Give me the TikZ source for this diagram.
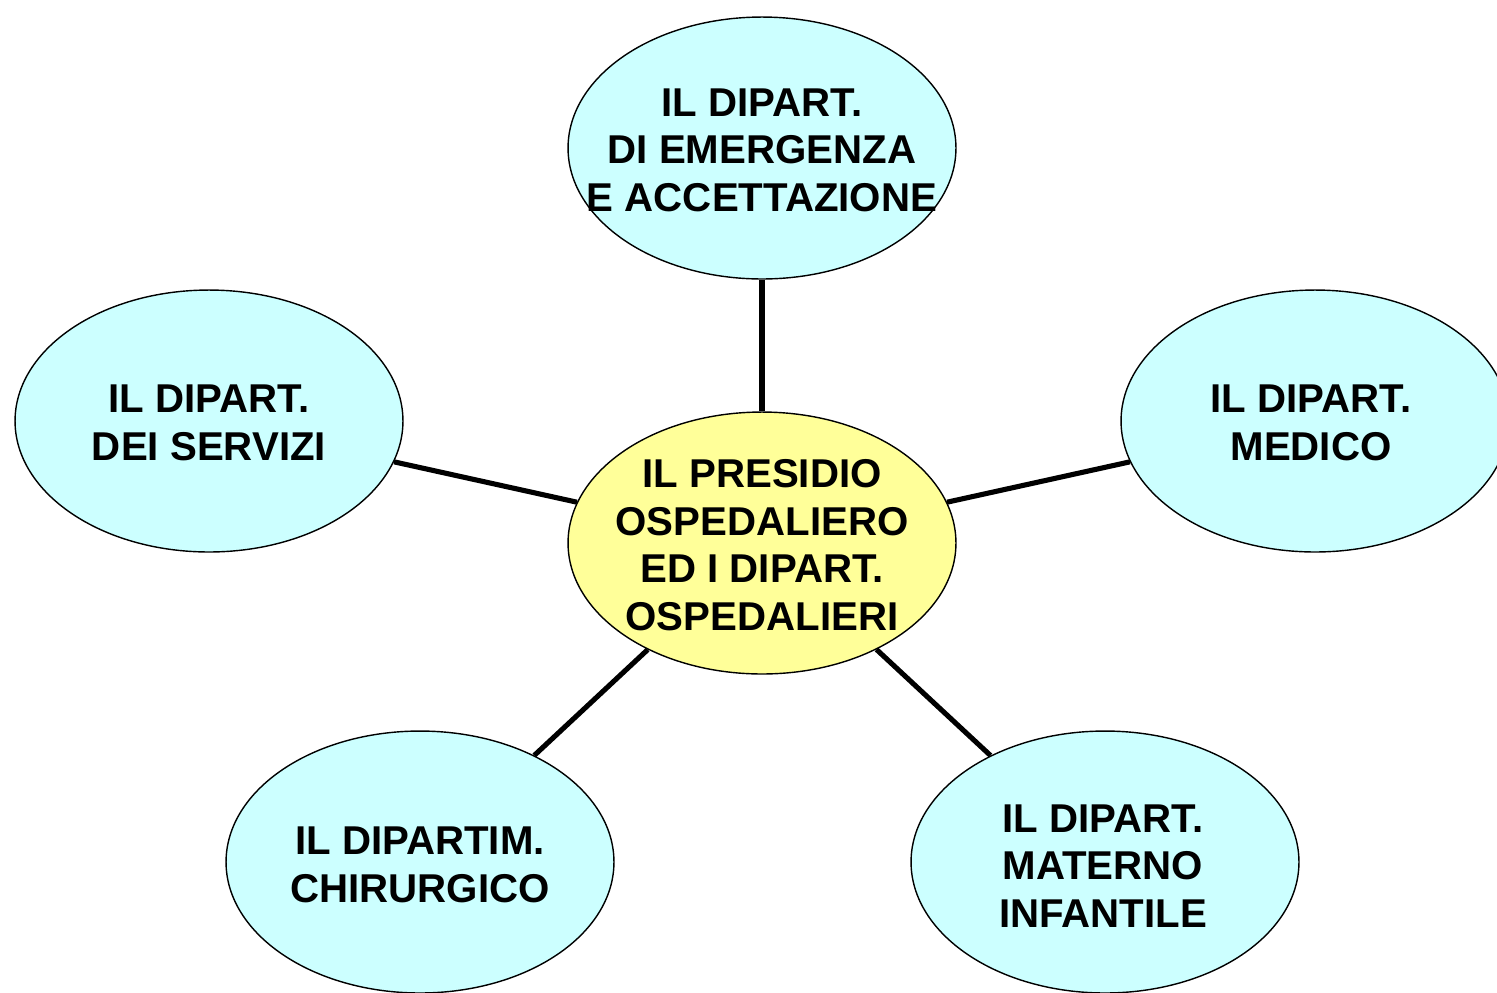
\documentclass[tikz,border=0pt]{standalone}
\usepackage{fontspec}
\setmainfont{Liberation Sans}
\usepackage{xcolor}
\usetikzlibrary{positioning, shapes.geometric}

\definecolor{deptcyan}{HTML}{CCFFFF}
\definecolor{presyellow}{HTML}{FFFF99}

\begin{document}
\begin{tikzpicture}[x=0.02cm, y=-0.02cm]

			% Define styles
			\tikzset{
				oval/.style={
					ellipse, draw, line width=0.8pt, inner sep=0pt,
					minimum width=7.76cm, minimum height=5.24cm
				},
				dept/.style={oval, fill=deptcyan},
				presidio/.style={oval, fill=presyellow},
				caption/.style={
					align=center, inner sep=0pt,
					font=\bfseries\fontsize{22.9}{27}\selectfont
				},
				link/.style={line width=2.9pt}
			}

			\useasboundingbox (0,0) rectangle (1497,992);

			% Centre and departments
			\node (pres)   [presidio] at (762,543)  {};
			\node (emerg)  [dept]     at (762,148)  {};
			\node (serv)   [dept]     at (209,421)  {};
			\node (med)    [dept]     at (1315,421) {};
			\node (chir)   [dept]     at (420,862)  {};
			\node (mater)  [dept]     at (1105,862) {};

			% Texts
			\node (presT)  [caption] at (762,545)  {IL PRESIDIO\\OSPEDALIERO\\ED I DIPART.\\OSPEDALIERI};
			\node (emergT) [caption] at (762,150)  {IL DIPART.\\DI EMERGENZA\\E ACCETTAZIONE};
			\node (servT)  [caption] at (209,423)  {IL DIPART.\\DEI SERVIZI};
			\node (medT)   [caption] at (1311,423) {IL DIPART.\\MEDICO};
			\node (chirT)  [caption] at (420,865)  {IL DIPARTIM.\\CHIRURGICO};
			\node (materT) [caption] at (1103,866) {IL DIPART.\\MATERNO\\INFANTILE};

			% Links to the centre
			\draw[link] (emerg) -- (pres);
			\draw[link] (serv) -- (pres);
			\draw[link] (med) -- (pres);
			\draw[link] (chir) -- (pres);
			\draw[link] (mater) -- (pres);

\end{tikzpicture}
\end{document}
